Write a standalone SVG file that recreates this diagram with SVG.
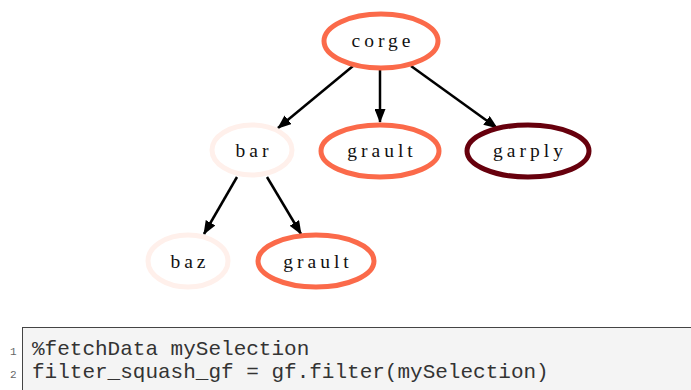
<svg xmlns="http://www.w3.org/2000/svg" width="691" height="390" viewBox="0 0 691 390">
  <style>
    .node ellipse { fill: #ffffff; stroke-width: 5; }
    .node text { font-family: "Liberation Serif", "Times New Roman", serif; font-size: 19.5px; letter-spacing: 4px; text-anchor: middle; fill: #111111; }
    .hi { stroke: #fb6a4a; }
    .lo { stroke: #fff0eb; }
    .top { stroke: #67000d; }
    .edges line { stroke: #000000; stroke-width: 2.5; marker-end: url(#arrow); }
    .code { font-family: "Liberation Mono", "Courier New", monospace; font-size: 21px; fill: #333333; }
    .lineno { font-family: "Liberation Mono", "Courier New", monospace; font-size: 11px; fill: #666666; }
  </style>
  <defs>
    <marker id="arrow" markerWidth="14" markerHeight="11" refX="13" refY="5.5" orient="auto" markerUnits="userSpaceOnUse" viewBox="0 0 14 11">
      <path d="M0,0 L14,5.5 L0,11 z" fill="#000000"/>
    </marker>
  </defs>
  <rect width="691" height="390" fill="#ffffff"/>

  <g class="edges">
    <line x1="353" y1="66" x2="278" y2="128"/>
    <line x1="380" y1="70" x2="380" y2="122"/>
    <line x1="411" y1="66" x2="497" y2="128"/>
    <line x1="237" y1="177" x2="204" y2="234"/>
    <line x1="267" y1="177" x2="301" y2="234"/>
  </g>

  <g id="corge" class="node">
    <ellipse class="hi" cx="381" cy="41" rx="57" ry="27"/>
    <text x="383" y="47">corge</text>
  </g>
  <g id="bar" class="node">
    <ellipse class="lo" cx="252" cy="150" rx="40" ry="25"/>
    <text x="254" y="157">bar</text>
  </g>
  <g id="grault" class="node">
    <ellipse class="hi" cx="380" cy="151" rx="59" ry="26"/>
    <text x="382" y="157">grault</text>
  </g>
  <g id="garply" class="node">
    <ellipse class="top" cx="528" cy="151" rx="61" ry="26"/>
    <text x="530" y="157">garply</text>
  </g>
  <g id="baz" class="node">
    <ellipse class="lo" cx="188" cy="261" rx="40" ry="26"/>
    <text x="190" y="268">baz</text>
  </g>
  <g id="grault2" class="node">
    <ellipse class="hi" cx="316" cy="261" rx="58" ry="26"/>
    <text x="318" y="268">grault</text>
  </g>

  <g id="code">
    <rect x="22.5" y="327.5" width="680" height="70" fill="#f4f4f4" stroke="#444444" stroke-width="1"/>
    <text class="lineno" x="10" y="355">1</text>
    <text class="lineno" x="10" y="378">2</text>
    <text class="code" x="32" y="355">%fetchData mySelection</text>
    <text class="code" x="32" y="378">filter_squash_gf = gf.filter(mySelection)</text>
  </g>
</svg>
